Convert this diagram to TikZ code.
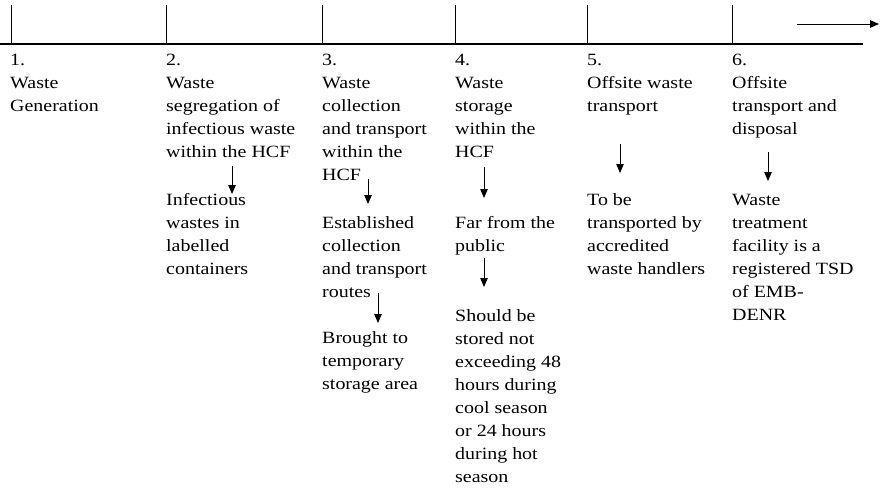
\documentclass[tikz,border=0pt]{standalone}
\usepackage{fontspec}
\setmainfont[FakeStretch=1.16]{Liberation Serif}
\usetikzlibrary{arrows.meta}
\begin{document}
\begin{tikzpicture}[x=1pt,y=-1pt,
  txt/.style={anchor=north west,inner sep=0pt,align=left,
    font=\fontsize{17.2}{23}\selectfont},
  tick/.style={line width=0.9pt},
  axis/.style={line width=2pt},
  flow/.style={line width=0.8pt,-{Triangle[length=9pt,width=7.5pt]}}]
\useasboundingbox (0,0) rectangle (880,487);
% axis and ticks
\coordinate (axL) at (0,44);
\coordinate (axR) at (863,44);
\draw[axis] (axL) -- (axR);
\foreach \xx/\nm in {11/t1,166/t2,322/t3,455/t4,587/t5,732/t6}{
  \coordinate (\nm top) at (\xx,5);
  \coordinate (\nm bot) at (\xx,44);
  \draw[tick] (\nm top) -- (\nm bot);
}
\coordinate (arrS) at (797,24);
\coordinate (arrE) at (879,24);
\draw[flow] (arrS) -- (arrE);
% text blocks (top = baseline - 16.1)
\node[txt] (c1) at (10,49.4) {\strut 1.\\Waste\\Generation};
\node[txt] (c2) at (166,49.4) {\strut 2.\\Waste\\segregation of\\infectious waste\\within the HCF};
\node[txt] (c2b) at (166,188.9) {\strut Infectious\\wastes in\\labelled\\containers};
\node[txt] (c3) at (322,49.4) {\strut 3.\\Waste\\collection\\and transport\\within the\\HCF};
\node[txt] (c3b) at (322,211.9) {\strut Established\\collection\\and transport\\routes};
\node[txt] (c3c) at (322,326.9) {\strut Brought to\\temporary\\storage area};
\node[txt] (c4) at (455,49.4) {\strut 4.\\Waste\\storage\\within the\\HCF};
\node[txt] (c4b) at (455,211.9) {\strut Far from the\\public};
\node[txt] (c4c) at (455,304.9) {\strut Should be\\stored not\\exceeding 48\\hours during\\cool season\\or 24 hours\\during hot\\season};
\node[txt] (c5) at (587,49.4) {\strut 5.\\Offsite waste\\transport};
\node[txt] (c5b) at (587,188.9) {\strut To be\\transported by\\accredited\\waste handlers};
\node[txt] (c6) at (732,49.4) {\strut 6.\\Offsite\\transport and\\disposal};
\node[txt] (c6b) at (732,188.9) {\strut Waste\\treatment\\facility is a\\registered TSD\\of EMB-\\DENR};
% flow arrows
\coordinate (a2s) at (232,166); \coordinate (a2e) at (232,194);
\coordinate (a3s) at (368,179); \coordinate (a3e) at (368,204);
\coordinate (a3t) at (378,293); \coordinate (a3f) at (378,323);
\coordinate (a4s) at (484,167); \coordinate (a4e) at (484,198);
\coordinate (a4t) at (484,258); \coordinate (a4f) at (484,287);
\coordinate (a5s) at (620,144); \coordinate (a5e) at (620,173);
\coordinate (a6s) at (768,152); \coordinate (a6e) at (768,181);
\draw[flow] (a2s) -- (a2e);
\draw[flow] (a3s) -- (a3e);
\draw[flow] (a3t) -- (a3f);
\draw[flow] (a4s) -- (a4e);
\draw[flow] (a4t) -- (a4f);
\draw[flow] (a5s) -- (a5e);
\draw[flow] (a6s) -- (a6e);
\end{tikzpicture}
\end{document}
